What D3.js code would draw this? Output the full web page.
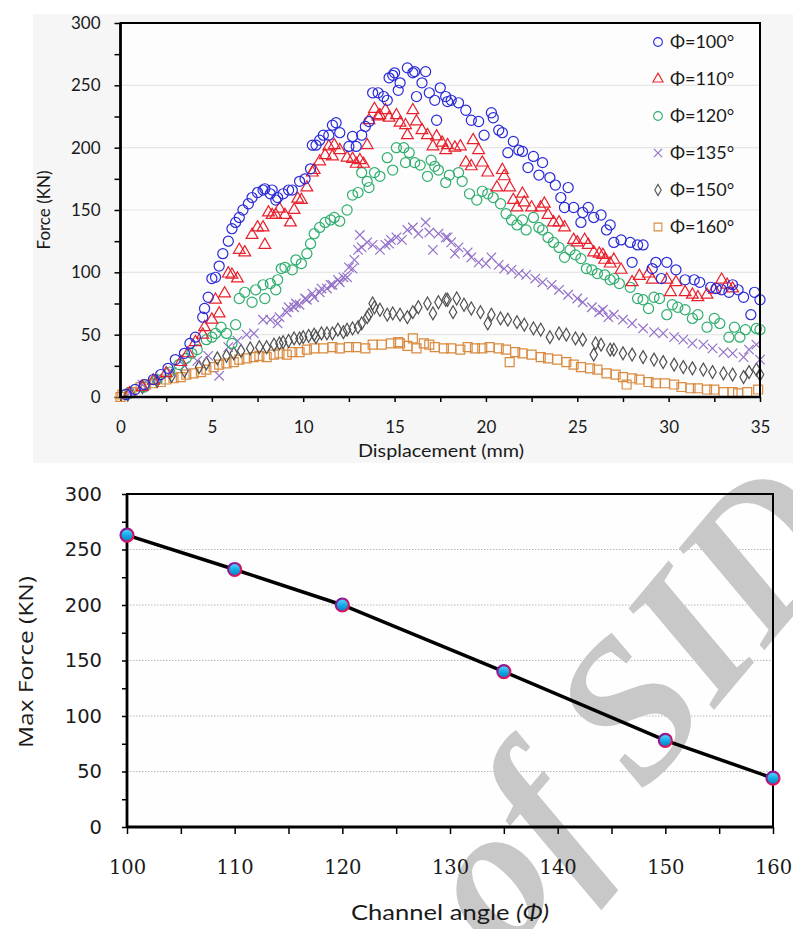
<!DOCTYPE html>
<html>
<head>
<meta charset="utf-8">
<script src="https://cdn.jsdelivr.net/npm/d3@7"></script>
<style>
body { margin: 0; background: #fff; }
svg { display: block; }
</style>
</head>
<body>
<div id="chart"></div>
<script>

// force-displacement readings, one pair of arrays per channel angle
let disp100 = [0.3,0.8,1.3,1.8,2.2,2.6,3.0,3.5,3.8,4.1,4.5,4.6,4.8,5.0,5.2,5.4,5.6,5.9,6.1,6.3,6.5,6.7,7.0,7.2,7.5,7.8,7.9,8.2,8.3,8.5,8.6,8.9,9.2,9.4,9.8,10.1,10.4,10.5,10.7,10.9,11.1,11.4,11.6,11.8,12.0,12.5,12.7,12.9,13.2,13.4,13.6,13.8,14.1,14.4,14.6,14.7,14.9,15.0,15.2,15.3,15.7,16.0,16.1,16.2,16.5,16.7,16.9,17.2,17.3,17.5,17.8,17.9,18.1,18.5,18.9,19.2,19.6,19.9,20.3,20.4,20.7,20.9,21.2,21.5,21.8,22.0,22.3,22.6,22.9,23.1,23.5,23.8,24.1,24.3,24.5,24.8,25.2,25.3,25.6,25.9,26.3,26.6,26.8,27.0,27.4,27.9,28.0,28.3,28.6,29.1,29.3,29.6,29.9,30.4,30.9,31.4,31.7,32.3,32.6,32.9,33.3,33.5,33.8,34.1,34.5,34.7,35.0];
let force100 = [2,6,10,14,18,23,30,35,43,48,64,71,80,95,96,105,115,125,135,140,144,150,155,160,164,166,167,163,166,158,160,163,166,166,173,175,183,202,202,206,210,210,218,220,212,201,209,201,210,217,221,244,244,241,238,256,258,260,246,252,264,260,261,241,252,261,244,238,222,248,241,237,238,236,230,222,221,210,228,224,214,212,196,205,198,197,184,193,178,188,176,170,160,152,168,152,140,148,152,144,146,134,138,124,126,124,108,122,122,103,108,95,108,102,94,94,92,88,87,86,84,90,86,80,66,84,78];

let disp110 = [0.5,1.2,1.8,2.5,3.3,3.7,4.1,4.5,4.6,5.0,5.2,5.4,5.7,5.9,6.1,6.4,6.5,6.8,7.2,7.5,7.8,7.9,8.1,8.3,8.5,8.7,9.0,9.3,9.5,9.7,9.9,10.2,10.5,10.6,10.9,11.2,11.4,11.6,11.7,12.0,12.4,12.7,12.9,13.1,13.3,13.5,13.6,13.9,14.1,14.2,14.5,14.7,15.1,15.3,15.6,15.7,16.0,16.2,16.5,16.8,17.1,17.3,17.6,17.8,17.9,18.3,18.6,18.9,19.2,19.3,19.6,19.8,20.1,20.6,20.9,21.0,21.3,21.5,21.7,22.0,22.1,22.5,23.0,23.2,23.4,23.7,24.0,24.3,24.8,25.0,25.4,25.6,25.9,26.2,26.4,26.5,26.8,27.0,27.4,28.0,28.4,28.9,29.1,29.9,30.1,30.4,30.9,31.3,31.6,32.1,32.5,32.9,33.2,33.5];
let force110 = [3,8,13,19,28,35,44,50,56,62,78,67,83,99,98,95,118,116,130,136,136,122,148,146,146,151,146,140,150,159,158,168,180,182,189,194,201,193,202,198,192,191,187,190,187,202,222,231,225,226,230,224,226,220,218,210,230,221,214,210,201,209,204,198,202,200,201,188,185,206,198,188,180,168,182,177,168,158,152,163,156,152,152,155,146,140,140,136,126,124,126,122,116,115,114,110,107,110,102,92,97,99,94,94,84,92,84,82,80,82,86,94,90,87];

let disp120 = [0.5,1.3,2.0,2.7,3.2,3.6,3.9,4.2,4.7,5.0,5.2,5.5,5.8,6.1,6.3,6.5,6.8,7.2,7.4,7.8,7.9,8.2,8.5,8.6,8.8,9.0,9.4,9.6,9.9,10.2,10.4,10.6,10.9,11.2,11.5,11.7,12.0,12.4,12.7,13.0,13.2,13.5,13.6,13.9,14.2,14.6,14.9,15.1,15.5,15.6,15.8,16.1,16.4,16.8,17.0,17.2,17.4,17.8,18.0,18.5,18.7,19.1,19.5,19.8,20.1,20.4,20.8,21.1,21.4,21.7,22.0,22.2,22.6,22.9,23.1,23.4,23.7,24.0,24.3,24.6,24.9,25.2,25.5,25.8,26.1,26.5,26.8,27.0,27.3,27.9,28.3,28.6,28.9,29.2,29.5,29.9,30.2,30.5,30.9,31.3,31.6,32.1,32.5,32.8,33.3,33.6,33.9,34.2,34.8,35.0];
let force120 = [3,8,14,20,26,31,35,38,46,48,51,56,51,43,58,79,84,76,86,90,79,91,86,94,103,104,102,110,107,115,123,131,136,140,142,144,141,150,162,164,180,173,168,180,177,192,182,200,200,188,196,188,186,177,190,185,182,172,178,180,173,163,158,165,163,160,155,147,142,138,142,134,144,136,134,128,124,120,112,118,114,111,103,102,99,98,94,95,91,88,79,78,71,80,79,66,74,72,70,63,66,56,63,59,48,56,48,54,55,54];

let disp135 = [0.5,1.2,2.0,2.8,3.5,4.2,4.8,5.4,5.9,6.4,6.9,7.3,7.8,8.2,8.6,8.7,9.1,9.2,9.5,9.6,9.8,10.1,10.2,10.5,10.6,10.9,11.0,11.3,11.5,11.6,11.9,12.0,12.2,12.4,12.5,12.7,12.8,13.0,13.1,13.2,13.5,13.8,14.2,14.5,14.7,14.8,15.1,15.4,15.7,16.0,16.3,16.7,16.9,17.1,17.4,17.8,17.9,18.1,18.3,18.5,19.0,19.2,19.6,20.0,20.3,20.7,21.0,21.4,21.8,22.2,22.7,23.1,23.6,24.0,24.5,25.0,25.3,25.8,26.2,26.4,26.7,27.0,27.5,28.0,28.6,29.2,29.7,30.3,30.8,31.3,31.9,32.4,33.0,33.5,34.1,34.4,34.8,35.0];
let force135 = [3,10,15,20,25,29,33,17,40,45,50,51,62,62,59,64,68,72,72,75,74,79,78,83,80,84,87,87,90,90,94,92,96,96,104,103,110,118,130,120,124,122,118,122,123,126,128,126,134,136,131,140,132,118,131,128,128,124,115,120,116,112,108,107,112,106,103,102,99,98,95,92,90,86,82,79,76,72,68,70,64,66,62,59,55,52,51,48,46,43,42,39,36,35,32,38,42,30];

let disp150 = [0.4,1.2,2.0,2.8,3.5,4.3,4.7,5.3,5.8,6.2,6.6,7.1,7.6,8.0,8.4,8.7,8.9,9.2,9.5,9.8,10.0,10.3,10.6,10.7,11.0,11.3,11.6,11.9,12.2,12.4,12.7,13.0,13.2,13.5,13.6,13.8,13.9,14.2,14.6,14.9,15.3,15.7,16.0,16.3,16.8,17.1,17.4,17.8,17.9,18.2,18.4,18.8,19.2,19.7,20.1,20.3,20.8,21.2,21.7,22.1,22.6,23.0,23.5,24.0,24.4,24.9,25.3,25.9,26.0,26.3,26.8,27.0,27.5,28.0,28.6,29.2,29.7,30.3,30.8,31.3,31.9,32.4,33.0,33.5,34.1,34.4,34.8,35.0];
let force150 = [2,8,13,17,21,24,27,31,33,35,37,39,40,40,42,43,44,45,47,47,48,49,50,48,51,51,51,54,52,54,55,56,59,64,66,75,72,70,66,67,66,64,68,72,75,67,76,78,78,68,79,74,71,68,59,66,63,62,60,58,55,54,48,51,50,47,46,34,43,42,38,38,35,34,32,30,28,26,24,23,22,20,19,18,16,20,22,18];

let disp160 = [0.0,0.1,0.6,1.1,1.4,1.8,2.2,2.5,2.9,3.3,3.6,4.0,4.4,4.7,5.1,5.4,5.8,6.2,6.5,6.9,7.3,7.6,8.0,8.4,8.7,9.1,9.4,9.8,10.2,10.6,11.1,11.6,12.0,12.5,12.9,13.4,13.8,14.3,14.8,15.2,15.3,15.7,16.0,16.2,16.6,16.9,17.2,17.7,18.1,18.6,19.0,19.4,19.8,20.2,20.7,21.1,21.3,21.6,22.0,22.5,23.0,23.4,23.9,24.4,24.8,25.2,25.7,26.1,26.6,27.1,27.5,27.7,28.0,28.4,28.9,29.3,29.8,30.3,30.7,31.2,31.6,32.1,32.5,33.0,33.5,33.8,34.3,34.9];
let force160 = [0,2,4,8,10,11,12,14,15,16,18,19,20,22,24,26,27,28,30,31,32,33,32,34,35,34,36,36,38,39,39,40,39,40,40,39,42,42,43,44,43,41,47,39,43,42,40,39,39,38,40,39,39,40,39,38,28,36,35,34,32,31,30,28,26,24,23,22,19,18,16,10,15,14,12,11,11,10,8,7,7,6,6,4,4,3,4,6];

let seriesNames = ["Φ=100°", "Φ=110°", "Φ=120°", "Φ=135°", "Φ=150°", "Φ=160°"];

// max force against channel angle
let channelAngle = [100, 110, 120, 135, 150, 160];
let maxForce = [263, 232, 200, 140, 78, 44];

let forceTicks = [0, 50, 100, 150, 200, 250, 300];
let dispTicks = [0, 5, 10, 15, 20, 25, 30, 35];
let angleTicks = [100, 110, 120, 130, 140, 150, 160];


let svgWidth = 793;
let svgHeight = 929;

let svg = d3.select("#chart")
    .append("svg")
    .attr("width", svgWidth)
    .attr("height", svgHeight);

let defs = svg.append("defs");

let fillGrad = defs.append("linearGradient")
    .attr("id", "dotFill")
    .attr("x1", 0).attr("y1", 0).attr("x2", 0).attr("y2", 1);
fillGrad.append("stop").attr("offset", "0%").attr("stop-color", "#5ad8ff");
fillGrad.append("stop").attr("offset", "55%").attr("stop-color", "#10a8e4");
fillGrad.append("stop").attr("offset", "100%").attr("stop-color", "#0a78c0");

let strokeGrad = defs.append("linearGradient")
    .attr("id", "dotStroke")
    .attr("x1", 0).attr("y1", 0).attr("x2", 1).attr("y2", 1);
strokeGrad.append("stop").attr("offset", "0%").attr("stop-color", "#6a1ea8");
strokeGrad.append("stop").attr("offset", "100%").attr("stop-color", "#ff1048");

// ---------- top chart ----------

let topBox = { left: 120.5, right: 760, top: 23, bottom: 397 };

svg.append("rect")
    .attr("x", 33).attr("y", 14)
    .attr("width", 760).attr("height", 449)
    .attr("fill", "#f6f6f6");

svg.append("rect")
    .attr("x", topBox.left).attr("y", topBox.top)
    .attr("width", topBox.right - topBox.left)
    .attr("height", topBox.bottom - topBox.top)
    .attr("fill", "#fdfdfd");

let xTop = d3.scaleLinear().domain([0, 35]).range([topBox.left, topBox.right]);
let yTop = d3.scaleLinear().domain([0, 300]).range([topBox.bottom, topBox.top]);

let topGrid = svg.append("g");
topGrid.selectAll("line")
    .data(forceTicks.filter(d => d > 0 && d < 300))
    .join("line")
    .attr("x1", topBox.left)
    .attr("x2", topBox.right)
    .attr("y1", d => yTop(d))
    .attr("y2", d => yTop(d))
    .attr("stroke", "#e6e6e6")
    .attr("stroke-width", 1.2);

let topLeftAxis = d3.axisLeft(yTop)
    .tickValues(d3.range(0, 301, 25))
    .tickFormat(d => forceTicks.includes(d) ? d : "")
    .tickSize(6)
    .tickPadding(14);

let topBottomAxis = d3.axisBottom(xTop)
    .tickValues(d3.range(0, 35.1, 2.5))
    .tickFormat(d => dispTicks.includes(d) ? d : "")
    .tickSize(5)
    .tickPadding(19);

let yAxisTop = svg.append("g")
    .attr("transform", `translate(${topBox.left}, 0)`)
    .call(topLeftAxis);

let xAxisTop = svg.append("g")
    .attr("transform", `translate(0, ${topBox.bottom})`)
    .call(topBottomAxis);

[yAxisTop, xAxisTop].forEach(a => {
    a.select(".domain").remove();
    a.selectAll(".tick line").attr("stroke", "#000").attr("stroke-width", 1.5);
    a.selectAll(".tick text")
        .attr("fill", "#1a1a1a")
        .style("font-family", "Lato, 'Open Sans', sans-serif")
        .style("font-size", "17px");
});

let symbolSizes = [80, 60, 80, 60, 48, 80];
let symbolTypes = [d3.symbolCircle, d3.symbolTriangle, d3.symbolCircle, d3.symbolX, d3.symbolDiamond, d3.symbolSquare];
let seriesColors = ["#2a2ad8", "#e8202c", "#2fae6e", "#9370c8", "#505050", "#da8a3e"];

let allDisp = [disp100, disp110, disp120, disp135, disp150, disp160];
let allForce = [force100, force110, force120, force135, force150, force160];

// draw last series first so blue circles sit on top like the original
for (let i = 5; i >= 0; i--) {
    let pts = d3.zip(allDisp[i], allForce[i]);
    let sym = d3.symbol().type(symbolTypes[i]).size(symbolSizes[i]);
    svg.append("g")
        .selectAll("path")
        .data(pts)
        .join("path")
        .attr("transform", d => `translate(${xTop(d[0])}, ${yTop(d[1])})`)
        .attr("d", sym)
        .attr("fill", "none")
        .attr("stroke", seriesColors[i])
        .attr("stroke-width", 1.2);
}

// frame of the top plot
svg.append("rect")
    .attr("x", topBox.left).attr("y", topBox.top)
    .attr("width", topBox.right - topBox.left)
    .attr("height", topBox.bottom - topBox.top)
    .attr("fill", "none")
    .attr("stroke", "#000")
    .attr("stroke-width", 2);

svg.append("line")
    .attr("x1", topBox.left).attr("x2", topBox.left)
    .attr("y1", topBox.top).attr("y2", topBox.bottom)
    .attr("stroke", "#000").attr("stroke-width", 2.6);
svg.append("line")
    .attr("x1", topBox.left).attr("x2", topBox.right)
    .attr("y1", topBox.bottom).attr("y2", topBox.bottom)
    .attr("stroke", "#000").attr("stroke-width", 2.6);

// legend
let legend = svg.append("g").attr("transform", "translate(658, 42)");
seriesNames.forEach((name, i) => {
    let row = legend.append("g").attr("transform", `translate(0, ${i * 37})`);
    row.append("path")
        .attr("d", d3.symbol().type(symbolTypes[i]).size(symbolSizes[i] * 0.75))
        .attr("fill", "none")
        .attr("stroke", seriesColors[i])
        .attr("stroke-width", 1.1);
    row.append("text")
        .attr("x", 12)
        .attr("dy", "0.36em")
        .attr("fill", "#1a1a1a")
        .style("font-family", "Lato, 'Open Sans', sans-serif")
        .style("font-size", "18px")
        .text(name);
});

svg.append("text")
    .attr("transform", "translate(50, 210) rotate(-90)")
    .attr("text-anchor", "middle")
    .attr("fill", "#1a1a1a")
    .style("font-family", "Lato, 'Open Sans', sans-serif")
    .style("font-size", "17px")
    .text("Force (KN)");

svg.append("text")
    .attr("x", 441)
    .attr("y", 457)
    .attr("text-anchor", "middle")
    .attr("fill", "#1a1a1a")
    .attr("textLength", 166)
    .attr("lengthAdjust", "spacingAndGlyphs")
    .style("font-family", "Lato, 'Open Sans', sans-serif")
    .style("font-size", "17px")
    .text("Displacement (mm)");

// ---------- bottom chart ----------

let botBox = { left: 127, right: 773, top: 494, bottom: 827 };

svg.append("rect")
    .attr("x", botBox.left).attr("y", botBox.top)
    .attr("width", botBox.right - botBox.left)
    .attr("height", botBox.bottom - botBox.top)
    .attr("fill", "#fefefe");

let xBot = d3.scaleLinear().domain([100, 160]).range([botBox.left, botBox.right]);
let yBot = d3.scaleLinear().domain([0, 300]).range([botBox.bottom, botBox.top]);

svg.append("g")
    .selectAll("line")
    .data(forceTicks.filter(d => d > 0 && d < 300))
    .join("line")
    .attr("x1", botBox.left)
    .attr("x2", botBox.right)
    .attr("y1", d => yBot(d))
    .attr("y2", d => yBot(d))
    .attr("stroke", "#b8b8b8")
    .attr("stroke-width", 1)
    .attr("stroke-dasharray", "1.5,1.5");

// watermark
let mark = svg.append("g")
    .attr("transform", "translate(640, 694) rotate(-50)")
    .attr("fill", "#c8c8c8")
    .style("font-family", "'Liberation Serif', 'DejaVu Serif', serif")
    .style("font-weight", "bold")
    .style("font-style", "italic")
    .style("font-size", "200px");
mark.append("text")
    .attr("x", -74)
    .attr("y", 67)
    .text("SID");
mark.append("text")
    .attr("x", -124)
    .attr("y", 67)
    .attr("text-anchor", "end")
    .text("Archive of");

let botLeftAxis = d3.axisLeft(yBot)
    .tickValues(d3.range(0, 301, 25))
    .tickFormat(d => forceTicks.includes(d) ? d : "")
    .tickSize(5)
    .tickPadding(20);

let botBottomAxis = d3.axisBottom(xBot)
    .tickValues(d3.range(100, 161, 5))
    .tickFormat(d => angleTicks.includes(d) ? d : "")
    .tickSize(7)
    .tickPadding(26);

let yAxisBot = svg.append("g")
    .attr("transform", `translate(${botBox.left}, 0)`)
    .call(botLeftAxis);

let xAxisBot = svg.append("g")
    .attr("transform", `translate(0, ${botBox.bottom})`)
    .call(botBottomAxis);

[yAxisBot, xAxisBot].forEach(a => {
    a.select(".domain").remove();
    a.selectAll(".tick line").attr("stroke", "#000").attr("stroke-width", 1.5);
    a.selectAll(".tick text").attr("fill", "#1a1a1a");
});
yAxisBot.selectAll(".tick text")
    .style("font-family", "'DejaVu Sans', sans-serif")
    .style("font-size", "19.5px");
xAxisBot.selectAll(".tick text")
    .style("font-family", "'DejaVu Serif', serif")
    .style("font-size", "19.5px");

svg.append("rect")
    .attr("x", botBox.left).attr("y", botBox.top)
    .attr("width", botBox.right - botBox.left)
    .attr("height", botBox.bottom - botBox.top)
    .attr("fill", "none")
    .attr("stroke", "#000")
    .attr("stroke-width", 2);

svg.append("line")
    .attr("x1", botBox.left).attr("x2", botBox.left)
    .attr("y1", botBox.top).attr("y2", botBox.bottom)
    .attr("stroke", "#000").attr("stroke-width", 2.8);
svg.append("line")
    .attr("x1", botBox.left).attr("x2", botBox.right)
    .attr("y1", botBox.bottom).attr("y2", botBox.bottom)
    .attr("stroke", "#000").attr("stroke-width", 2.8);

let maxLine = d3.line()
    .x(d => xBot(d[0]))
    .y(d => yBot(d[1]));

let maxPts = d3.zip(channelAngle, maxForce);

svg.append("path")
    .datum(maxPts)
    .attr("d", maxLine)
    .attr("fill", "none")
    .attr("stroke", "#000")
    .attr("stroke-width", 3.5);

svg.append("g")
    .selectAll("circle")
    .data(maxPts)
    .join("circle")
    .attr("cx", d => xBot(d[0]))
    .attr("cy", d => yBot(d[1]))
    .attr("r", 6.5)
    .attr("fill", "url(#dotFill)")
    .attr("stroke", "url(#dotStroke)")
    .attr("stroke-width", 2.2);

svg.append("text")
    .attr("transform", "translate(33, 662) rotate(-90)")
    .attr("text-anchor", "middle")
    .attr("fill", "#1a1a1a")
    .attr("textLength", 172)
    .attr("lengthAdjust", "spacingAndGlyphs")
    .style("font-family", "'Open Sans', sans-serif")
    .style("font-size", "20px")
    .text("Max Force (KN)");

let xTitle = svg.append("text")
    .attr("x", 450)
    .attr("y", 920)
    .attr("text-anchor", "middle")
    .attr("fill", "#1a1a1a")
    .attr("textLength", 198)
    .attr("lengthAdjust", "spacingAndGlyphs")
    .style("font-family", "Lato, 'Open Sans', sans-serif")
    .style("font-size", "22px");
xTitle.append("tspan").text("Channel angle ");
xTitle.append("tspan").style("font-style", "italic").text("(Φ)");

</script>
</body>
</html>
